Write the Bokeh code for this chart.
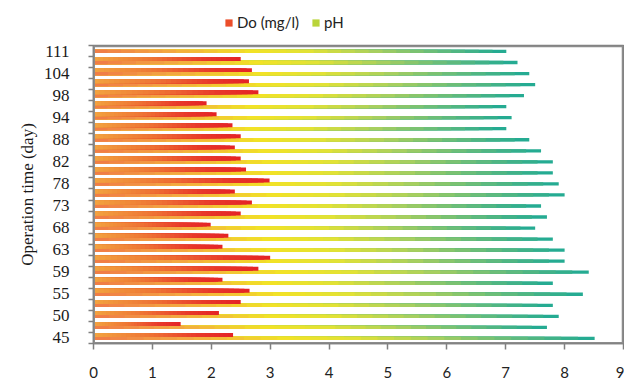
from bokeh.plotting import figure
from bokeh.layouts import column
from bokeh.models import ColumnDataSource, FixedTicker, Legend, LegendItem, BoxAnnotation
from bokeh.embed import file_html
from bokeh.resources import INLINE

# ---- data ----
days = [45, 47, 50, 52, 55, 57, 59, 61, 63, 66, 68, 71, 73, 76, 78, 80, 82, 85,
        88, 91, 94, 96, 98, 101, 104, 108, 111]
do_vals = [2.37, 1.48, 2.13, 2.50, 2.65, 2.19, 2.80, 3.00, 2.19, 2.29, 1.99, 2.50,
           2.69, 2.40, 2.99, 2.59, 2.50, 2.40, 2.50, 2.36, 2.09, 1.92, 2.80, 2.64,
           2.69, 2.50, 0.0]
ph_vals = [8.51, 7.70, 7.90, 7.80, 8.31, 7.80, 8.41, 8.00, 8.00, 7.80, 7.50, 7.70,
           7.60, 8.00, 7.90, 7.80, 7.80, 7.60, 7.40, 7.01, 7.10, 7.01, 7.31, 7.50,
           7.40, 7.20, 7.01]
labeled_days = [45, 50, 55, 59, 63, 68, 73, 78, 82, 88, 94, 98, 104, 111]
x_ticks = list(range(0, 10))
series_names = ["Do (mg/l)", "pH"]

# ---- gradient helpers (style only) ----
def hex2rgb(h):
    h = h.lstrip("#")
    return tuple(int(h[i:i + 2], 16) for i in (0, 2, 4))

def interp(stops, t):
    for (t0, c0), (t1, c1) in zip(stops[:-1], stops[1:]):
        if t <= t1:
            f = 0 if t1 == t0 else (t - t0) / (t1 - t0)
            a, b = hex2rgb(c0), hex2rgb(c1)
            return "#%02x%02x%02x" % tuple(int(round(a[i] + (b[i] - a[i]) * f)) for i in range(3))
    return stops[-1][1]

ph_stops = [(0.0, "#F07A48"), (0.18, "#F3A642"), (0.38, "#F2E226"), (0.52, "#E2E235"),
            (0.68, "#A8CF5E"), (0.84, "#62BB7C"), (1.0, "#1EA994")]
do_stops = [(0.0, "#F2A440"), (0.4, "#EE7434"), (0.75, "#E8392A"), (1.0, "#E42226")]

N = 30
idx = list(range(len(days)))

def build(vals, offset, stops):
    # layered bars: longest (end colour) drawn first, shorter ones on top -> smooth gradient
    ys, rs, cs = [], [], []
    for k in range(N - 1, -1, -1):
        for i, v in zip(idx, vals):
            if not v:
                continue
            ys.append(float(i + offset))
            rs.append(float(v * (k + 1) / N))
            cs.append(interp(stops, (k + 0.5) / N))
    return ColumnDataSource(dict(y=ys, left=[0.0] * len(ys), right=rs, color=cs))

src_ph = build(ph_vals, -0.04, ph_stops)
src_do = build(do_vals, 0.27, do_stops)

# ---- legend strip ----
lf = figure(width=624, height=36, output_backend="svg", toolbar_location=None,
            min_border=0, min_border_left=93, min_border_right=1,
            x_range=(0, 1), y_range=(0, 1))
lf.axis.visible = False
lf.grid.visible = False
lf.outline_line_color = None
ld = lf.rect(x=[-5], y=[-5], width=0.1, height=0.1, fill_color="#EC4E2A", line_color=None)
lp = lf.rect(x=[-5], y=[-5], width=0.1, height=0.1, fill_color="#B9D43A", line_color=None)
legend = Legend(items=[LegendItem(label=series_names[0], renderers=[ld]),
                       LegendItem(label=series_names[1], renderers=[lp])],
                orientation="horizontal", location=(131, 5),
                glyph_width=9, glyph_height=9, label_standoff=4, spacing=12,
                padding=0, margin=0, border_line_color=None,
                background_fill_alpha=0,
                label_text_font="Lato", label_text_font_size="15px",
                label_text_color="#222222")
lf.add_layout(legend, "center")

# ---- main chart ----
p = figure(width=624, height=344, output_backend="svg", toolbar_location=None,
           x_range=(0, 9), y_range=(-0.5, len(days) - 0.5),
           min_border_left=93, min_border_right=1, min_border_top=9, min_border_bottom=10)

r_ph = p.hbar(y="y", left="left", right="right", height=0.30, fill_color="color",
              line_color=None, source=src_ph)
r_do = p.hbar(y="y", left="left", right="right", height=0.36, fill_color="color",
              line_color=None, source=src_do)

p.xgrid.visible = False
p.ygrid.visible = False
p.outline_line_color = "#808080"
p.outline_line_width = 1.5
# frame border drawn as thin filled strips (style)
y0, y1 = -0.5, len(days) - 0.5
for kw in (dict(left=0, right=0.025), dict(left=9 - 0.03, right=9),
           dict(bottom=y0, top=y0 + 0.14), dict(bottom=y1 - 0.16, top=y1)):
    p.add_layout(BoxAnnotation(fill_color="#8c8c8c", fill_alpha=1, line_color=None,
                               level="overlay", **kw))

# x axis
p.xaxis.ticker = FixedTicker(ticks=x_ticks)
p.xaxis.axis_line_color = "#808080"
p.xaxis.axis_line_width = 1.5
p.xaxis.major_tick_line_color = "#808080"
p.xaxis.major_tick_line_width = 1.5
p.xaxis.major_tick_out = 6
p.xaxis.major_tick_in = 0
p.xaxis.minor_tick_line_color = None
p.xaxis.major_label_standoff = 17
p.xaxis.major_label_text_font = "Lato"
p.xaxis.major_label_text_font_size = "15px"
p.xaxis.major_label_text_color = "#222222"

# y axis
label_pos = [days.index(d) for d in labeled_days]
p.yaxis.ticker = FixedTicker(ticks=label_pos,
                             minor_ticks=[i - 0.5 for i in range(len(days) + 1)])
p.yaxis.major_label_overrides = {i: str(days[i]) for i in label_pos}
p.yaxis.axis_line_color = "#808080"
p.yaxis.axis_line_width = 1.5
p.yaxis.major_tick_out = 0
p.yaxis.major_tick_in = 0
p.yaxis.minor_tick_out = 5
p.yaxis.minor_tick_in = 0
p.yaxis.minor_tick_line_color = "#808080"
p.yaxis.minor_tick_line_width = 1.5
p.yaxis.major_label_standoff = 19
p.yaxis.major_label_text_font = "Liberation Serif"
p.yaxis.major_label_text_font_size = "17px"
p.yaxis.major_label_text_color = "#1a1a1a"
p.yaxis.axis_label = "Operation time (day)"
p.yaxis.axis_label_text_font = "Liberation Serif"
p.yaxis.axis_label_text_font_size = "17px"
p.yaxis.axis_label_text_font_style = "normal"
p.yaxis.axis_label_text_color = "#1a1a1a"
p.yaxis.axis_label_standoff = 4

layout = column(lf, p, spacing=0)
open("out.html", "w").write(file_html(layout, INLINE))
